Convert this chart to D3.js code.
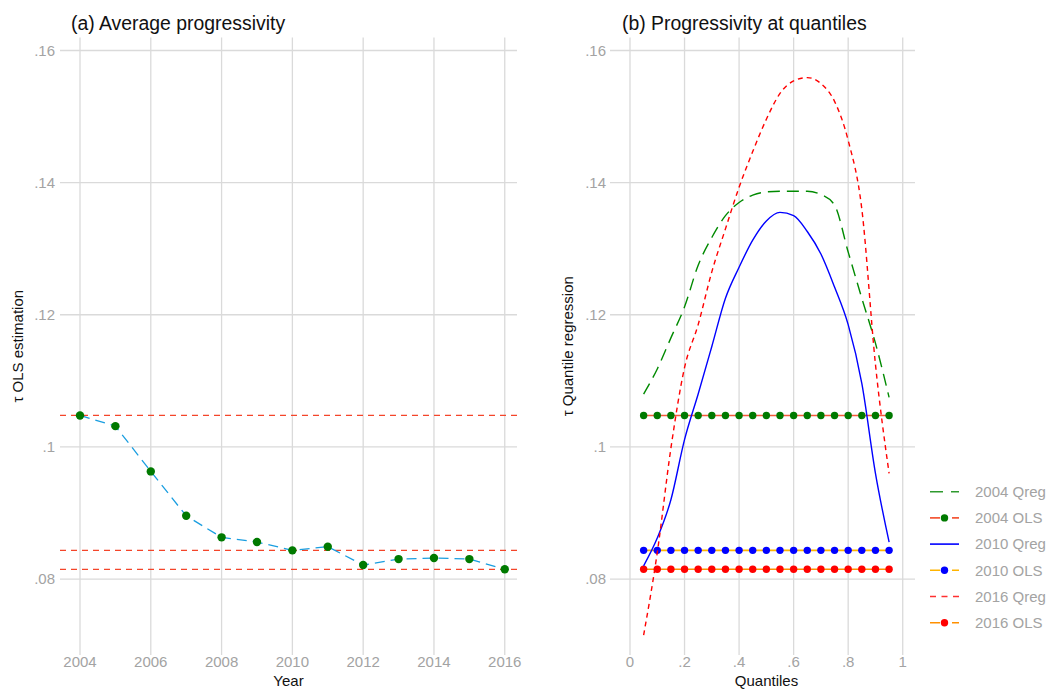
<!DOCTYPE html>
<html>
<head>
<meta charset="utf-8">
<script src="https://cdn.jsdelivr.net/npm/d3@7"></script>
<style>
  html, body { margin: 0; padding: 0; background: #ffffff; }
  svg { display: block; font-family: "Liberation Sans", Arial, sans-serif; }
</style>
</head>
<body>
<svg id="chart" width="1051" height="690"></svg>
<script>
// ---------- DATA ----------
const years = [2004, 2005, 2006, 2007, 2008, 2009, 2010, 2011, 2012, 2013, 2014, 2015, 2016];
const olsEstimates = [0.10476, 0.10314, 0.09629, 0.08957, 0.08631, 0.08560, 0.08434, 0.08489, 0.08212, 0.08302, 0.08318, 0.08302, 0.08147];
const refLines = [0.10476, 0.08434, 0.08147];

const quantiles = [0.05, 0.10, 0.15, 0.20, 0.25, 0.30, 0.35, 0.40, 0.45, 0.50, 0.55, 0.60, 0.65, 0.70, 0.75, 0.80, 0.85, 0.90, 0.95];
const qreg2004 = [0.1080, 0.1118, 0.1165, 0.1212, 0.1275, 0.1317, 0.1350, 0.1370, 0.1381, 0.1386, 0.1387, 0.1387, 0.1387, 0.1382, 0.1366, 0.1295, 0.1225, 0.1157, 0.1075];
const qreg2010 = [0.0820, 0.0862, 0.0920, 0.1011, 0.1080, 0.1152, 0.1225, 0.1272, 0.1313, 0.1342, 0.1355, 0.1350, 0.1326, 0.1292, 0.1242, 0.1185, 0.1096, 0.0960, 0.0856];
const qreg2016 = [0.0715, 0.0840, 0.0998, 0.1120, 0.1185, 0.1265, 0.1330, 0.1393, 0.1447, 0.1496, 0.1535, 0.1554, 0.1559, 0.1550, 0.1523, 0.1464, 0.1360, 0.1125, 0.0960];
const ols2004 = 0.10476, ols2010 = 0.08434, ols2016 = 0.08147;

const yTicks = [0.08, 0.10, 0.12, 0.14, 0.16];
const yTickLabels = [".08", ".1", ".12", ".14", ".16"];
const yearTicks = [2004, 2006, 2008, 2010, 2012, 2014, 2016];
const qTicks = [0, 0.2, 0.4, 0.6, 0.8, 1];
const qTickLabels = ["0", ".2", ".4", ".6", ".8", "1"];
const legendLabels = ["2004 Qreg", "2004 OLS", "2010 Qreg", "2010 OLS", "2016 Qreg", "2016 OLS"];

// ---------- SETUP ----------
const svg = d3.select("#chart");
const gridColor = "#dadada";
const tickColor = "#a3a3a3";
const plotTop = 37.5, plotBottom = 655;
const yDomain = [0.06850, 0.16197];

const yScale = d3.scaleLinear().domain(yDomain).range([plotBottom, plotTop]);
const xYear = d3.scaleLinear().domain([2003.435, 2016.346]).range([60, 517]);
const xQ = d3.scaleLinear().domain([-0.0733, 1.045]).range([610, 915]);

function drawPanel(xs, xTickVals, xTickFmt, labelRightX) {
  const g = svg.append("g");
  const [x0, x1] = xs.range();
  g.selectAll(".hg").data(yTicks).enter().append("line")
    .attr("x1", x0).attr("x2", x1)
    .attr("y1", d => yScale(d)).attr("y2", d => yScale(d))
    .attr("stroke", gridColor).attr("stroke-width", 1.3);
  g.selectAll(".vg").data(xTickVals).enter().append("line")
    .attr("x1", d => xs(d)).attr("x2", d => xs(d))
    .attr("y1", plotTop).attr("y2", plotBottom)
    .attr("stroke", gridColor).attr("stroke-width", 1.3);
  g.selectAll(".yl").data(yTicks).enter().append("text")
    .attr("x", labelRightX).attr("y", d => yScale(d) + 5.3)
    .attr("text-anchor", "end").attr("font-size", 15).attr("fill", tickColor)
    .text((d, i) => yTickLabels[i]);
  g.selectAll(".xl").data(xTickVals).enter().append("text")
    .attr("x", d => xs(d)).attr("y", 667)
    .attr("text-anchor", "middle").attr("font-size", 15).attr("fill", tickColor)
    .text((d, i) => xTickFmt(d, i));
  return g;
}

// ---------- PANEL A ----------
const gA = drawPanel(xYear, yearTicks, d => String(d), 55);
gA.selectAll(".ref").data(refLines).enter().append("line")
  .attr("x1", 60).attr("x2", 517)
  .attr("y1", d => yScale(d)).attr("y2", d => yScale(d))
  .attr("stroke", "#f4452a").attr("stroke-width", 1.3).attr("stroke-dasharray", "6,5");
const lineA = d3.line().x((d, i) => xYear(years[i])).y(d => yScale(d));
gA.append("path").datum(olsEstimates).attr("d", lineA)
  .attr("fill", "none").attr("stroke", "#1a9ee0").attr("stroke-width", 1.3)
  .attr("stroke-dasharray", "10,6");
gA.selectAll(".pt").data(olsEstimates).enter().append("circle")
  .attr("cx", (d, i) => xYear(years[i])).attr("cy", d => yScale(d))
  .attr("r", 4.2).attr("fill", "#007a00");

svg.append("text").attr("x", 71).attr("y", 29.5).attr("font-size", 19.4).attr("fill", "#111")
  .text("(a) Average progressivity");
svg.append("text").attr("x", 288.5).attr("y", 686).attr("text-anchor", "middle")
  .attr("font-size", 15).attr("fill", "#111").text("Year");
svg.append("text").attr("transform", `translate(23,${(plotTop + plotBottom) / 2}) rotate(-90)`)
  .attr("text-anchor", "middle").attr("font-size", 15).attr("fill", "#111")
  .text("τ OLS estimation");

// ---------- PANEL B ----------
const gB = drawPanel(xQ, qTicks, (d, i) => qTickLabels[i], 606);

const olsSeries = [
  { v: ols2004, line: "#f45a3a", pt: "#007a00" },
  { v: ols2010, line: "#ffb400", pt: "#0000ff" },
  { v: ols2016, line: "#ff9000", pt: "#ff0000" }
];
olsSeries.forEach(s => {
  gB.append("line")
    .attr("x1", xQ(quantiles[0])).attr("x2", xQ(quantiles[quantiles.length - 1]))
    .attr("y1", yScale(s.v)).attr("y2", yScale(s.v))
    .attr("stroke", s.line).attr("stroke-width", 1.6);
  gB.selectAll(null).data(quantiles).enter().append("circle")
    .attr("cx", d => xQ(d)).attr("cy", yScale(s.v))
    .attr("r", 3.7).attr("fill", s.pt);
});

const lineB = d3.line().x((d, i) => xQ(quantiles[i])).y(d => yScale(d)).curve(d3.curveMonotoneX);
const qregSeries = [
  { data: qreg2004, color: "#008a00", dash: "12,7" },
  { data: qreg2010, color: "#0000ff", dash: null },
  { data: qreg2016, color: "#ff0000", dash: "5,4" }
];
qregSeries.forEach(s => {
  const p = gB.append("path").datum(s.data).attr("d", lineB)
    .attr("fill", "none").attr("stroke", s.color).attr("stroke-width", 1.4);
  if (s.dash) p.attr("stroke-dasharray", s.dash);
});

svg.append("text").attr("x", 622).attr("y", 29.5).attr("font-size", 19.4).attr("fill", "#111")
  .text("(b) Progressivity at quantiles");
svg.append("text").attr("x", 766.5).attr("y", 686).attr("text-anchor", "middle")
  .attr("font-size", 15).attr("fill", "#111").text("Quantiles");
svg.append("text").attr("transform", `translate(573,${(plotTop + plotBottom) / 2}) rotate(-90)`)
  .attr("text-anchor", "middle").attr("font-size", 15).attr("fill", "#111")
  .text("τ Quantile regression");

// ---------- LEGEND ----------
const legendItems = [
  { stroke: "#2e9a2e", dash: "13,8", pt: null },
  { stroke: "#f45a3a", dash: "10,12", pt: "#007a00" },
  { stroke: "#0000ff", dash: null, pt: null },
  { stroke: "#ffb400", dash: "10,12", pt: "#0000ff" },
  { stroke: "#ff3030", dash: "6,5.5", pt: null },
  { stroke: "#ff9000", dash: "10,12", pt: "#ff0000" }
];
const legY = d3.scalePoint().domain(legendLabels).range([491.7, 622.7]);
const leg = svg.append("g");
legendLabels.forEach((lab, i) => {
  const it = legendItems[i];
  const y = legY(lab);
  const l = leg.append("line").attr("x1", 930).attr("x2", 959).attr("y1", y).attr("y2", y)
    .attr("stroke", it.stroke).attr("stroke-width", 1.6);
  if (it.dash) l.attr("stroke-dasharray", it.dash);
  if (it.pt) leg.append("circle").attr("cx", 944.5).attr("cy", y).attr("r", 3.7).attr("fill", it.pt);
  leg.append("text").attr("x", 975).attr("y", y + 5.3).attr("font-size", 15)
    .attr("fill", tickColor).text(lab);
});
</script>
</body>
</html>
